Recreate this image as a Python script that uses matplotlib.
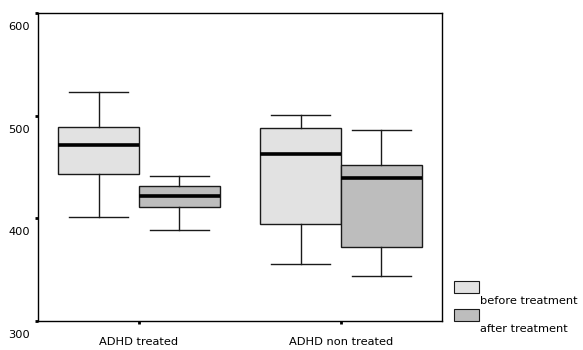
import matplotlib
matplotlib.use("Agg")
import matplotlib.pyplot as plt
from matplotlib.patches import Rectangle

plt.rcParams["font.family"] = "DejaVu Sans"

# Five-number summaries per group and period
GROUPS = ["ADHD treated", "ADHD non treated"]
PERIODS = ["before treatment", "after treatment"]
WHISLO = [[401, 389], [355, 344]]
Q1 = [[443, 411], [394, 372]]
MEDIAN = [[471, 422], [463, 439]]
Q3 = [[489, 431], [488, 452]]
WHISHI = [[523, 441], [501, 486]]

COLORS = ["#e2e2e2", "#bdbdbd"]
YTICKS = [300, 400, 500, 600]

fig = plt.figure(figsize=(5.83, 3.5), dpi=100)
ax = fig.add_axes([0.0652, 0.083, 0.6930, 0.880])

width = 0.4
for p, period in enumerate(PERIODS):
    stats = []
    positions = []
    for g in range(len(GROUPS)):
        stats.append({
            "med": MEDIAN[g][p], "q1": Q1[g][p], "q3": Q3[g][p],
            "whislo": WHISLO[g][p], "whishi": WHISHI[g][p], "fliers": [],
        })
        positions.append(g + 1 + (p - 0.5) * width)
    ax.bxp(stats, positions=positions, widths=width, capwidths=0.29,
           patch_artist=True, manage_ticks=False,
           boxprops=dict(facecolor=COLORS[p], edgecolor="#1a1a1a", linewidth=1.0),
           medianprops=dict(color="black", linewidth=2.6),
           whiskerprops=dict(color="#1a1a1a", linewidth=1.0),
           capprops=dict(color="#1a1a1a", linewidth=1.0))

ax.set_xlim(0.5, 2.5)
ax.set_ylim(300, 600)
ax.set_xticks([1, 2])
ax.set_xticklabels(GROUPS, fontsize=8.2)
ax.tick_params(axis="x", length=2.5, width=2, pad=9)
ax.set_yticks(YTICKS)
ax.set_yticklabels([])
ax.tick_params(axis="y", length=2.5, width=2)
for v in YTICKS:
    ax.annotate(str(v), xy=(0, v), xycoords=("axes fraction", "data"),
                xytext=(-6, -10), textcoords="offset points",
                ha="right", va="center", fontsize=8.2)
for s in ax.spines.values():
    s.set_linewidth(1.0)

# legend drawn outside the axes
for i, (period, col) in enumerate(zip(PERIODS, COLORS)):
    y0 = 0.163 - i * 0.08
    fig.patches.append(Rectangle((0.778, y0), 0.044, 0.034, facecolor=col,
                                 edgecolor="#1a1a1a", linewidth=0.8,
                                 transform=fig.transFigure))
    fig.text(0.824, y0 - 0.022, period, fontsize=8.2, va="center", ha="left")

fig.savefig("out.png", dpi=100)
